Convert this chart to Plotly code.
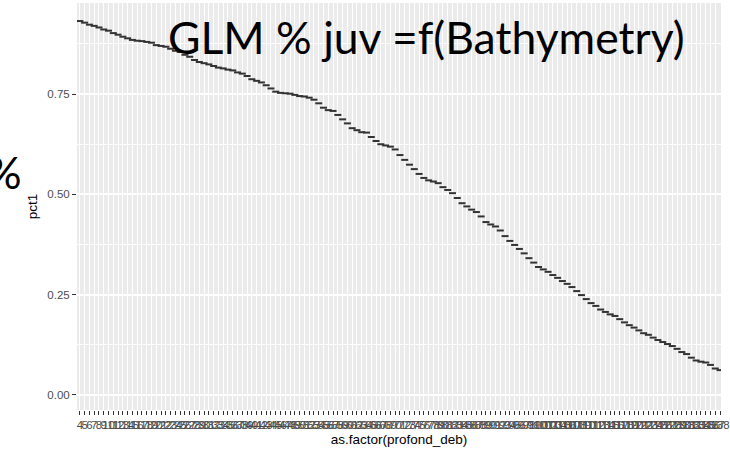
import plotly.graph_objects as go

# categories: depth values (as.factor(profond_deb))
depths = [str(d) for d in range(4, 139)]

# predicted proportion of juveniles per depth class
pct1 = [
    0.932, 0.928, 0.923, 0.920, 0.916, 0.911, 0.908, 0.902, 0.898, 0.893,
    0.889, 0.885, 0.883, 0.882, 0.880, 0.878, 0.872, 0.870, 0.868, 0.863,
    0.858, 0.855, 0.848, 0.843, 0.835, 0.830, 0.827, 0.824, 0.820, 0.816,
    0.814, 0.811, 0.809, 0.804, 0.801, 0.795, 0.787, 0.783, 0.779, 0.772,
    0.764, 0.756, 0.753, 0.752, 0.751, 0.748, 0.745, 0.744, 0.741, 0.736,
    0.727, 0.716, 0.710, 0.708, 0.698, 0.687, 0.677, 0.665, 0.660, 0.655,
    0.654, 0.643, 0.633, 0.625, 0.622, 0.619, 0.612, 0.598, 0.586, 0.574,
    0.563, 0.551, 0.541, 0.535, 0.532, 0.528, 0.518, 0.511, 0.503, 0.491,
    0.478, 0.470, 0.462, 0.456, 0.445, 0.431, 0.425, 0.420, 0.410, 0.396,
    0.384, 0.374, 0.364, 0.353, 0.341, 0.330, 0.319, 0.313, 0.307, 0.299,
    0.292, 0.284, 0.277, 0.269, 0.259, 0.249, 0.239, 0.229, 0.222, 0.213,
    0.207, 0.201, 0.197, 0.189, 0.181, 0.174, 0.168, 0.161, 0.154, 0.150,
    0.143, 0.137, 0.132, 0.127, 0.122, 0.115, 0.107, 0.102, 0.093, 0.086,
    0.083, 0.081, 0.075, 0.066, 0.062,
]

y_ticks = [0.0, 0.25, 0.5, 0.75]
y_ticklabels = ["0.00", "0.25", "0.50", "0.75"]

fig = go.Figure()
fig.add_trace(go.Scatter(
    x=depths, y=pct1, mode="markers",
    marker=dict(symbol="line-ew", size=5, color="#333333",
                line=dict(color="#333333", width=2)),
    hoverinfo="x+y", showlegend=False,
))

tick_font = dict(family="Liberation Sans, Arial, sans-serif", size=11.5, color="#4D4D4D")
title_font = dict(family="Liberation Sans, Arial, sans-serif", size=13.5, color="#000000")

fig.update_layout(
    width=730, height=462,
    margin=dict(l=77, r=0, t=3, b=52),
    paper_bgcolor="white",
    plot_bgcolor="#EBEBEB",
    xaxis=dict(
        type="category",
        range=[-0.6, 134.2],
        tickmode="array", tickvals=depths, ticktext=depths,
        tickangle=0,
        showgrid=True, gridcolor="white", gridwidth=1,
        ticks="outside", ticklen=4, tickcolor="#333333", tickwidth=1,
        tickfont=tick_font,
        title=dict(text="as.factor(profond_deb)", font=title_font, standoff=4),
        showline=False, zeroline=False,
    ),
    yaxis=dict(
        range=[-0.0374, 0.977],
        tickmode="array", tickvals=y_ticks, ticktext=y_ticklabels,
        showgrid=True, gridcolor="white", gridwidth=1.5,
        minor=dict(dtick=0.125, tick0=0, showgrid=True, gridcolor="white", gridwidth=0.7),
        ticks="outside", ticklen=4, tickcolor="#333333", tickwidth=1,
        tickfont=tick_font,
        title=dict(text="pct1", font=title_font, standoff=6),
        showline=False, zeroline=False,
    ),
    annotations=[
        dict(text="GLM % juv =f(Bathymetry)", xref="paper", yref="paper",
             x=0.542, y=0.917, xanchor="center", yanchor="middle", showarrow=False,
             font=dict(family="Lato, sans-serif", size=44.5, color="#000000")),
        dict(text="%", xref="paper", yref="paper",
             x=-0.083, y=0.587, xanchor="right", yanchor="middle", showarrow=False,
             font=dict(family="Lato, sans-serif", size=44.5, color="#000000")),
    ],
)

fig.write_html("out.html", config={"displayModeBar": False},
               post_script="document.body.style.margin='0';document.body.style.padding='0';")
